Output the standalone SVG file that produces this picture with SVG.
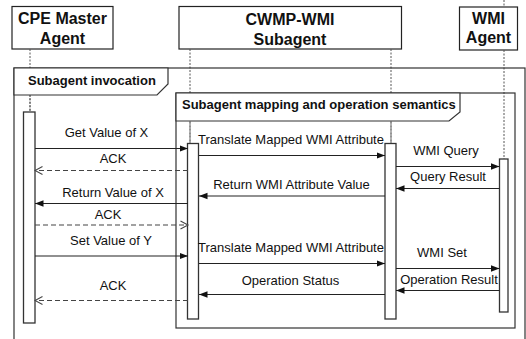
<svg xmlns="http://www.w3.org/2000/svg" width="526" height="339" viewBox="0 0 526 339">
<style>
.hdr{fill:#fff;stroke:#222;stroke-width:1.2}
.ht{font-family:"Liberation Sans",Arial,sans-serif;font-weight:bold;font-size:16px;fill:#111;text-anchor:middle}
.ft{font-family:"Liberation Sans",Arial,sans-serif;font-weight:bold;font-size:13px;fill:#111}
.mt{font-family:"Liberation Sans",Arial,sans-serif;font-size:13px;fill:#111;text-anchor:middle}
.life{stroke:#555;stroke-width:1;stroke-dasharray:2,1.5;fill:none}
.frame{fill:none;stroke:#333;stroke-width:1.2}
.lbl{fill:#fff;stroke:#333;stroke-width:1.2}
.act{fill:#fff;stroke:#333;stroke-width:1.3}
.msg{stroke:#222;stroke-width:1.2;fill:none}
.ret{stroke:#444;stroke-width:1.2;fill:none;stroke-dasharray:5,3}
</style>
<defs>
<marker id="sol" markerWidth="9" markerHeight="8" refX="8.5" refY="4" orient="auto" markerUnits="userSpaceOnUse">
<path d="M0,0.8 L8.5,4 L0,7.2 Z" fill="#111"/>
</marker>
<marker id="opn" markerWidth="10" markerHeight="10" refX="8.5" refY="5" orient="auto" markerUnits="userSpaceOnUse">
<path d="M1,1 L8.5,5 L1,9" fill="none" stroke="#444" stroke-width="1.1"/>
</marker>
</defs>

<g id="cpe-master-agent">
<rect class="hdr" x="12" y="6.5" width="101" height="42.5"/>
<text class="ht" x="62.5" y="24">CPE Master</text>
<text class="ht" x="62.5" y="43.5">Agent</text>
</g>
<g id="cwmp-wmi-subagent">
<rect class="hdr" x="179" y="6.5" width="222.5" height="42.5"/>
<text class="ht" x="290" y="24.5">CWMP-WMI</text>
<text class="ht" x="290" y="44.5">Subagent</text>
</g>
<g id="wmi-agent">
<rect class="hdr" x="459.5" y="7" width="58" height="43"/>
<text class="ht" x="488.5" y="24">WMI</text>
<text class="ht" x="488.5" y="43">Agent</text>
</g>

<g id="lifelines">
<line class="life" x1="30" y1="49" x2="30" y2="112"/>
<line class="life" x1="190" y1="49" x2="190" y2="143"/>
<line class="life" x1="391" y1="49" x2="391" y2="143"/>
<line class="life" x1="504" y1="0" x2="504" y2="7"/>
<line class="life" x1="504" y1="50" x2="504" y2="159"/>
</g>

<g id="frame-subagent-invocation">
<rect class="frame" x="14" y="68" width="511" height="280"/>
<path class="lbl" d="M14,68 L168,68 L168,84 L157,95 L14,95 Z"/>
<text class="ft" x="28" y="85">Subagent invocation</text>
</g>

<g id="frame-subagent-mapping">
<rect class="frame" x="176" y="93" width="339" height="235"/>
<path class="lbl" d="M176,93 L460,93 L460,112 L449,121 L176,121 Z"/>
<text class="ft" x="182" y="109">Subagent mapping and operation semantics</text>
</g>

<g id="lifelines-inner">
<line class="life" x1="190" y1="121" x2="190" y2="143"/>
<line class="life" x1="391" y1="121" x2="391" y2="143"/>
<line class="life" x1="30" y1="95" x2="30" y2="112"/>
</g>

<g id="activations">
<rect class="act" x="23.5" y="112" width="11.5" height="211"/>
<rect class="act" x="187.5" y="143.5" width="11" height="175.5"/>
<rect class="act" x="385" y="143.5" width="11" height="175.5"/>
<rect class="act" x="499.5" y="159" width="8.5" height="153"/>
</g>

<g id="connectors">
<line class="msg" x1="35" y1="148.5" x2="188" y2="148.5" marker-end="url(#sol)"/>
<line class="ret" x1="188" y1="170.5" x2="35" y2="170.5" marker-end="url(#opn)"/>
<line class="msg" x1="188" y1="203.5" x2="35" y2="203.5" marker-end="url(#sol)"/>
<line class="ret" x1="35" y1="225" x2="188" y2="225" marker-end="url(#opn)"/>
<line class="msg" x1="35" y1="256" x2="188" y2="256" marker-end="url(#sol)"/>
<line class="ret" x1="188" y1="300.5" x2="35" y2="300.5" marker-end="url(#opn)"/>

<line class="msg" x1="199" y1="155.5" x2="385" y2="155.5" marker-end="url(#sol)"/>
<line class="msg" x1="396" y1="166.5" x2="499.5" y2="166.5" marker-end="url(#sol)"/>
<line class="msg" x1="499.5" y1="188.5" x2="396" y2="188.5" marker-end="url(#sol)"/>
<line class="msg" x1="385" y1="196" x2="199" y2="196" marker-end="url(#sol)"/>
<line class="msg" x1="199" y1="263.5" x2="385" y2="263.5" marker-end="url(#sol)"/>
<line class="msg" x1="396" y1="268.5" x2="499.5" y2="268.5" marker-end="url(#sol)"/>
<line class="msg" x1="499.5" y1="290.5" x2="396" y2="290.5" marker-end="url(#sol)"/>
<line class="msg" x1="385" y1="294.5" x2="199" y2="294.5" marker-end="url(#sol)"/>
</g>

<g id="labels">
<text class="mt" x="106.5" y="136.5">Get Value of X</text>
<text class="mt" x="113" y="162.5">ACK</text>
<text class="mt" x="113" y="197">Return Value of X</text>
<text class="mt" x="108" y="218.5">ACK</text>
<text class="mt" x="111" y="245">Set Value of Y</text>
<text class="mt" x="113" y="290">ACK</text>
<text class="mt" x="291" y="143.5">Translate Mapped WMI Attribute</text>
<text class="mt" x="446" y="155">WMI Query</text>
<text class="mt" x="448" y="181">Query Result</text>
<text class="mt" x="291.5" y="188.5">Return WMI Attribute Value</text>
<text class="mt" x="291" y="251.5">Translate Mapped WMI Attribute</text>
<text class="mt" x="442" y="257">WMI Set</text>
<text class="mt" x="449" y="283.5">Operation Result</text>
<text class="mt" x="290.5" y="285">Operation Status</text>
</g>
</svg>
